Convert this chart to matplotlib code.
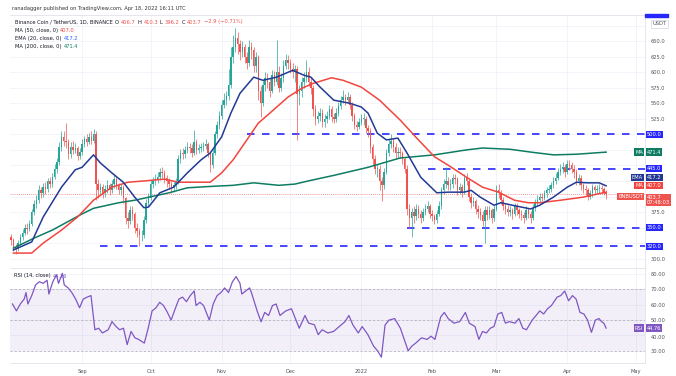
import matplotlib
matplotlib.use("Agg")
import matplotlib.pyplot as plt
from matplotlib.transforms import IdentityTransform
from matplotlib.patches import Rectangle
import numpy as np

# daily candles, day 0 = 1 Aug 2021 ... day 260 = 18 Apr 2022
first_open = 335
closes = [
    330, 318, 315, 326, 335, 342, 350, 348, 355, 375,
    388, 395, 410, 405, 416, 412, 425, 420, 432, 445,
    455, 480, 495, 490, 488, 468, 480, 475, 478, 465,
    472, 485, 492, 488, 495, 490, 500, 420, 410, 415,
    405, 412, 418, 410, 420, 428, 418, 410, 415, 398,
    365, 360, 378, 372, 350, 345, 338, 338, 362, 390,
    398, 420, 425, 428, 432, 440, 438, 430, 425, 420,
    415, 418, 425, 460, 470, 468, 475, 480, 478, 470,
    488, 475, 478, 480, 482, 485, 470, 450, 470, 500,
    515, 530, 548, 555, 562, 580, 625, 640, 655, 645,
    632, 640, 625, 615, 640, 635, 610, 625, 570, 550,
    580, 590, 585, 570, 595, 585, 600, 575, 590, 610,
    620, 615, 605, 600, 605, 565, 570, 585, 590, 600,
    585, 575, 540, 525, 530, 535, 520, 525, 530, 540,
    528, 525, 535, 545, 555, 560, 555, 560, 548, 530,
    515, 512, 520, 525, 525, 510, 505, 480, 460, 445,
    445, 425, 418, 440, 470, 485, 490, 480, 470, 472,
    470, 460, 445, 380, 365, 375, 368, 380, 372, 365,
    375, 380, 385, 372, 368, 362, 372, 385, 410, 420,
    425, 418, 420, 430, 428, 410, 415, 408, 430, 425,
    400, 390, 392, 380, 375, 370, 360, 378, 370, 378,
    365, 380, 410, 405, 395, 385, 380, 375, 378, 372,
    385, 378, 372, 370, 366, 378, 372, 365, 382, 390,
    395, 400, 398, 405, 410, 412, 418, 425, 430, 440,
    445, 448, 440, 452, 450, 445, 440, 425, 430, 418,
    412, 410, 400, 405, 415, 410, 412, 414, 412, 406.7, 403.7,
]
highs = [
    340, 334, 324, 330, 340, 348, 356, 358, 362, 380,
    395, 402, 418, 416, 422, 424, 430, 432, 438, 452,
    462, 488, 505, 505, 518, 492, 488, 490, 486, 482,
    478, 492, 498, 500, 502, 506, 508, 505, 428, 422,
    420, 418, 426, 422, 426, 434, 432, 422, 420, 418,
    400, 375, 385, 384, 375, 358, 350, 346, 368, 396,
    405, 426, 432, 436, 440, 446, 448, 442, 434, 430,
    425, 424, 430, 466, 476, 478, 482, 488, 486, 484,
    507, 492, 484, 486, 488, 492, 488, 474, 476, 506,
    522, 538, 556, 566, 570, 605, 640, 660, 671, 665,
    652, 650, 646, 632, 651, 648, 640, 632, 628, 578,
    588, 600, 598, 590, 603, 602, 651, 610, 598, 620,
    630, 628, 622, 615, 612, 610, 580, 592, 600, 620,
    608, 592, 580, 548, 538, 542, 540, 532, 538, 548,
    545, 535, 542, 552, 562, 571, 565, 568, 565, 552,
    535, 522, 526, 532, 534, 530, 515, 510, 485, 466,
    452, 450, 432, 446, 476, 492, 500, 494, 486, 480,
    480, 474, 464, 450, 388, 382, 384, 388, 386, 378,
    382, 388, 392, 388, 378, 372, 378, 392, 416, 428,
    448, 432, 428, 436, 436, 432, 422, 420, 436, 438,
    428, 405, 400, 396, 386, 382, 376, 384, 385, 384,
    382, 386, 418, 420, 410, 400, 390, 386, 384, 382,
    390, 390, 382, 378, 375, 384, 382, 376, 388, 396,
    402, 406, 405, 410, 416, 418, 424, 432, 438, 446,
    452, 455, 452, 459, 458, 456, 450, 444, 436, 434,
    422, 418, 414, 410, 420, 418, 418, 420, 418, 416, 410.3,
]
lows = [
    322, 312, 308, 312, 322, 330, 338, 340, 344, 352,
    370, 382, 390, 398, 400, 404, 408, 414, 416, 428,
    438, 450, 474, 482, 478, 460, 462, 468, 470, 458,
    460, 466, 480, 482, 484, 484, 486, 395, 398, 402,
    398, 400, 406, 402, 406, 414, 412, 404, 402, 390,
    355, 350, 355, 362, 342, 335, 320, 328, 334, 358,
    385, 394, 414, 418, 422, 426, 430, 422, 416, 412,
    406, 408, 412, 420, 454, 460, 462, 470, 470, 464,
    466, 468, 470, 472, 474, 476, 464, 440, 446, 466,
    494, 508, 524, 542, 548, 556, 575, 615, 632, 630,
    620, 625, 615, 605, 610, 622, 600, 600, 555, 528,
    545, 570, 575, 560, 566, 578, 580, 568, 570, 585,
    605, 605, 598, 590, 585, 491, 548, 560, 575, 585,
    578, 565, 530, 515, 518, 522, 512, 512, 518, 524,
    520, 518, 520, 530, 540, 550, 548, 550, 540, 522,
    508, 505, 508, 515, 515, 502, 495, 470, 450, 436,
    432, 410, 393, 412, 436, 465, 478, 472, 462, 462,
    462, 452, 438, 370, 350, 335, 358, 362, 365, 358,
    360, 370, 375, 366, 360, 356, 358, 368, 380, 404,
    414, 410, 410, 414, 420, 402, 404, 400, 404, 418,
    392, 382, 384, 372, 366, 362, 352, 325, 362, 364,
    358, 360, 376, 398, 388, 378, 372, 368, 368, 364,
    368, 370, 365, 362, 358, 362, 366, 358, 362, 376,
    385, 390, 392, 394, 400, 405, 408, 414, 420, 426,
    434, 438, 432, 436, 442, 438, 430, 418, 418, 410,
    405, 402, 394, 396, 400, 404, 405, 406, 404, 402, 396.2,
]

# moving averages (day, value)
ema20_days = [1, 9, 14, 22, 28, 31, 36, 39, 44, 49, 54, 58, 60, 65, 71, 77, 83, 87, 92, 96,
              100, 106, 110, 116, 123, 128, 131, 135, 141, 148, 153, 156, 160, 164, 169, 173,
              179, 186, 191, 198, 201, 205, 211, 214, 219, 227, 231, 237, 243, 247, 252, 257, 260]
ema20_vals = [314, 327, 367, 415, 443, 447, 467, 454, 438, 423, 399, 382, 383, 406, 415, 438, 459,
              470, 496, 534, 566, 592, 587, 592, 603, 595, 592, 576, 555, 550, 544, 534, 502, 491,
              494, 470, 431, 406, 407, 407, 410, 399, 386, 390, 386, 380, 386, 399, 415, 423, 422,
              422, 417.2]
ma50_days = [1, 9, 14, 22, 29, 36, 44, 51, 58, 67, 73, 80, 87, 92, 97, 103, 108, 113, 121, 127,
             132, 140, 145, 153, 161, 170, 178, 185, 192, 199, 206, 213, 220, 226, 231, 240, 250, 260]
ma50_vals = [309, 309, 325, 346, 367, 394, 415, 423, 425, 428, 423, 423, 423, 438, 459, 491, 518,
             534, 560, 574, 582, 591, 587, 576, 555, 523, 491, 464, 448, 431, 415, 407, 394, 390,
             390, 394, 399, 407.0]
ma200_days = [1, 10, 18, 25, 31, 36, 47, 54, 69, 77, 86, 97, 106, 117, 124, 131, 141, 156, 170,
              185, 199, 206, 218, 228, 237, 247, 260]
ma200_vals = [317, 333, 346, 360, 372, 381, 390, 394, 406, 414, 416, 418, 422, 418, 420, 426, 434,
              447, 462, 467, 475, 478, 476, 471, 467, 468, 471.4]

rsi_days = [0.6, 2.3, 4.0, 5.7, 6.5, 7.3, 9.0, 10.7, 12.3, 14.0, 15.7, 16.5, 18.2, 19.8, 20.7, 22.4,
            23.2, 24.9, 26.5, 28.2, 29.9, 31.5, 33.2, 34.9, 36.6, 38.2, 39.9, 42.4, 44.1, 45.7,
            47.4, 49.1, 50.7, 52.4, 54.1, 55.7, 58.2, 59.9, 61.6, 63.3, 64.9, 66.6, 68.3, 69.9,
            71.6, 73.3, 74.9, 76.6, 78.3, 80.0, 80.8, 82.5, 84.1, 86.6, 88.3, 90.0, 91.7, 93.3,
            95.0, 96.7, 98.3, 100.0, 100.8, 102.5, 104.2, 105.0, 107.5, 109.2, 110.8, 112.5,
            114.2, 115.8, 117.5, 120.0, 122.5, 124.2, 125.9, 128.4, 130.0, 132.5, 134.2, 135.9,
            138.4, 140.9, 143.4, 145.9, 147.6, 149.3, 151.7, 153.4, 155.9, 158.4, 160.1, 161.8,
            163.4, 165.1, 167.6, 170.1, 171.8, 173.5, 175.1, 176.8, 179.3, 181.8, 183.5, 185.2,
            187.7, 189.3, 191.0, 193.5, 196.0, 198.5, 200.2, 202.7, 204.4, 206.0, 207.7, 209.4,
            211.0, 212.7, 214.4, 216.0, 217.7, 220.2, 221.9, 223.6, 225.2, 227.7, 229.4, 231.0,
            232.7, 234.4, 236.1, 238.6, 240.2, 241.9, 243.6, 245.3, 246.9, 248.6, 250.3, 251.9,
            253.6, 255.3, 256.9, 258, 259, 260]
rsi_vals = [60.5, 56, 60.5, 63.7, 68, 60.5, 66, 73, 75, 74, 76, 67, 75, 79.5, 74, 80.5, 73, 71, 68,
            63.7, 58, 63.7, 65, 66, 43.7, 44.7, 41.6, 43.7, 49, 46, 43.7, 44.7, 34, 42.6, 38.4,
            37.4, 35, 44.7, 56, 58, 61.6, 59.5, 55, 50, 57, 63.7, 65, 62, 66, 69, 59.5, 61.6,
            59.5, 50, 60.5, 66, 68, 71, 68, 75, 78.4, 74, 67, 69, 71, 68, 56, 48.9, 55, 53, 59.5,
            60.5, 53, 56, 57.4, 51, 44.7, 53, 48, 47, 40.5, 43.7, 41.6, 42.6, 45.8, 49, 53, 47,
            41.6, 45.8, 40.5, 33, 30, 25.8, 46.8, 50, 51, 44.7, 37.4, 30, 33, 35, 38.4, 37.4,
            39.5, 37.4, 52, 55, 51, 48, 49, 55, 48, 45.8, 37.4, 42.6, 41.6, 44.7, 45.8, 54, 55,
            48, 49, 48, 51, 44.7, 43.7, 50, 53, 56, 54, 57.4, 59.5, 65, 66, 69, 62.6, 66, 63.7,
            55, 54, 50, 42, 50, 51, 49, 48, 44.76]

levels = [500, 445, 350, 320]
level_start = [103, 182, 173, 39]
month_days = [31, 61, 92, 122, 153, 184, 212, 243, 273]
month_labels = ["Sep", "Oct", "Nov", "Dec", "2022", "Feb", "Mar", "Apr", "May"]
price_ticks = [300, 325, 350, 375, 400, 425, 450, 475, 500, 525, 550, 575, 600, 625, 650, 675]
# tick labels that stay visible (the rest sit under the price tags)
price_tick_shown = [300, 375, 525, 550, 575, 600, 625, 650]
rsi_ticks = [30, 40, 50, 60, 70, 80]

last_close, ma50_last, ema20_last, ma200_last, rsi_last = 403.7, 407.0, 417.2, 471.4, 44.76

UP, DOWN = "#26a69a", "#ef5350"
EMA_C, MA50_C, MA200_C = "#233a94", "#f2453d", "#0e7c63"
LEVEL_C = "#2626ff"
RSI_C = "#7e57c2"
GRID = "#f0f3fa"
TXT = "#50535e"
FS = 3.7

W, H = 676, 376
fig = plt.figure(figsize=(W / 100, H / 100), dpi=100)
fig.patch.set_facecolor("white")


def box(x0, y0, x1, y1):
    return [x0 / W, 1 - y1 / H, (x1 - x0) / W, (y1 - y0) / H]


ax = fig.add_axes(box(10, 15, 645, 268))
ax_rsi = fig.add_axes(box(10, 268, 645, 363), sharex=ax)

days = np.arange(len(closes))
c = np.array(closes, float)
o = np.array([first_open] + closes[:-1], float)
hi = np.array(highs, float)
lo = np.array(lows, float)
up = c >= o
cols = np.where(up, UP, DOWN)

ax.vlines(days, lo, hi, colors=cols, lw=0.5, zorder=3)
ax.bar(days, np.maximum(np.abs(c - o), 0.8), bottom=np.minimum(o, c), width=0.62,
       color=cols, lw=0, zorder=3)

ax.plot(ma200_days, ma200_vals, color=MA200_C, lw=1.1, zorder=4)
ax.plot(ma50_days, ma50_vals, color=MA50_C, lw=1.1, zorder=4)
ax.plot(ema20_days, ema20_vals, color=EMA_C, lw=1.1, zorder=4)

x_end = 277
for lv, st in zip(levels, level_start):
    ax.plot([st, x_end], [lv, lv], color=LEVEL_C, lw=1.2, dashes=(4.5, 4.5), zorder=2)
ax.axhline(last_close, color=DOWN, lw=0.6, ls=(0, (1, 1.5)), alpha=0.8, zorder=1)

ax.set_xlim(-0.5, x_end)
ax.set_ylim(285, 692)
ax.set_yticks(price_ticks)
ax.set_yticklabels([f"{t:.1f}" if t in price_tick_shown else "" for t in price_ticks])
ax.yaxis.tick_right()
ax.tick_params(axis="y", length=0, pad=4, labelsize=FS, labelcolor=TXT)
ax.tick_params(axis="x", length=0, labelbottom=False)
ax.set_xticks(month_days)
ax.grid(True, color=GRID, lw=0.6)
ax.set_axisbelow(True)

# RSI pane
ax_rsi.axhspan(30, 70, color=RSI_C, alpha=0.09, lw=0)
for lv in (70, 50, 30):
    ax_rsi.axhline(lv, color="#9598a1", lw=0.5, ls=(0, (3, 3)), alpha=0.8)
ax_rsi.plot(rsi_days, rsi_vals, color=RSI_C, lw=0.9, zorder=3)
ax_rsi.set_ylim(22, 84)
ax_rsi.set_yticks(rsi_ticks)
ax_rsi.set_yticklabels([f"{t:.2f}" for t in rsi_ticks])
ax_rsi.yaxis.tick_right()
ax_rsi.tick_params(axis="y", length=0, pad=4, labelsize=FS, labelcolor=TXT)
for lab in ax_rsi.get_yticklabels():
    if lab.get_text() == "40.00":
        lab.set_va("top")
ax_rsi.set_xticks(month_days)
ax_rsi.set_xticklabels(month_labels)
ax_rsi.tick_params(axis="x", length=0, pad=4, labelsize=FS, labelcolor=TXT)
ax_rsi.grid(True, color=GRID, lw=0.6)
ax_rsi.set_axisbelow(True)

for a in (ax, ax_rsi):
    for s in a.spines.values():
        s.set_color("#e0e3eb")
        s.set_linewidth(0.6)
    a.spines["left"].set_visible(False)


def tag(a, y, text, fc, side="value", tc="white"):
    if side == "value":
        x, ha = 1.003, "left"
    else:
        x, ha = 0.997, "right"
    a.text(x, y, text, transform=a.get_yaxis_transform(), fontsize=FS, color=tc,
           ha=ha, va="center", clip_on=False, zorder=10, linespacing=1.1,
           bbox=dict(boxstyle="square,pad=0.22", fc=fc, ec="none"))


for lv in levels:
    tag(ax, lv, f"{lv:.1f}", LEVEL_C)
tag(ax, ma200_last, f"{ma200_last:.1f}", MA200_C)
tag(ax, ma200_last, "MA", MA200_C, side="name")
tag(ax, ema20_last + 13, f"{ema20_last:.1f}", EMA_C)
tag(ax, ema20_last + 13, "EMA", EMA_C, side="name")
tag(ax, ma50_last + 10.5, f"{ma50_last:.1f}", MA50_C)
tag(ax, ma50_last + 10.5, "MA", MA50_C, side="name")
tag(ax, last_close - 9.5, f"{last_close:.1f}\n07:48:03", DOWN)
tag(ax, last_close - 3.5, "BNBUSDT", DOWN, side="name")
tag(ax_rsi, rsi_last, f"{rsi_last:.2f}", RSI_C)
tag(ax_rsi, rsi_last, "RSI", RSI_C, side="name")

ax.text(1.012, 678, "USDT", transform=ax.get_yaxis_transform(), fontsize=FS, color=TXT,
        ha="left", va="center", clip_on=False, zorder=11,
        bbox=dict(boxstyle="square,pad=0.3", fc="white", ec="#c8cbd2", lw=0.4))
fig.patches.append(Rectangle((645 / W, 1 - 16.5 / H), 23 / W, 2.5 / H, transform=fig.transFigure,
                             color=LEVEL_C, zorder=12))

# header texts
renderer = fig.canvas.get_renderer()


def rich(x, y, parts, size=FS):
    for s, col in parts:
        t = fig.text(x, H - y, s, color=col, fontsize=size, ha="left", va="center",
                     transform=IdentityTransform())
        x += t.get_window_extent(renderer).width + 2


rich(12, 8.5, [("ranadagger published on TradingView.com, Apr 18, 2022 16:11 UTC", "#333333")])
rich(15, 22, [("Binance Coin / TetherUS, 1D, BINANCE", "#131722"),
              ("O", "#131722"), ("406.7", DOWN), ("H", "#131722"), ("410.3", DOWN),
              ("L", "#131722"), ("396.2", DOWN), ("C", "#131722"), ("403.7", DOWN),
              ("\u22122.9 (\u22120.71%)", DOWN)])
rich(15, 30.5, [("MA (50, close, 0)", "#131722"), (f"{ma50_last:.1f}", MA50_C)])
rich(15, 38.5, [("EMA (20, close, 0)", "#131722"), (f"{ema20_last:.1f}", "#2962ff")])
rich(15, 46.5, [("MA (200, close, 0)", "#131722"), (f"{ma200_last:.1f}", MA200_C)])
rich(14, 276, [("RSI (14, close)", "#131722"), (f"{rsi_last:.2f}", RSI_C)])

fig.savefig("out.png", dpi=100, facecolor="white")
